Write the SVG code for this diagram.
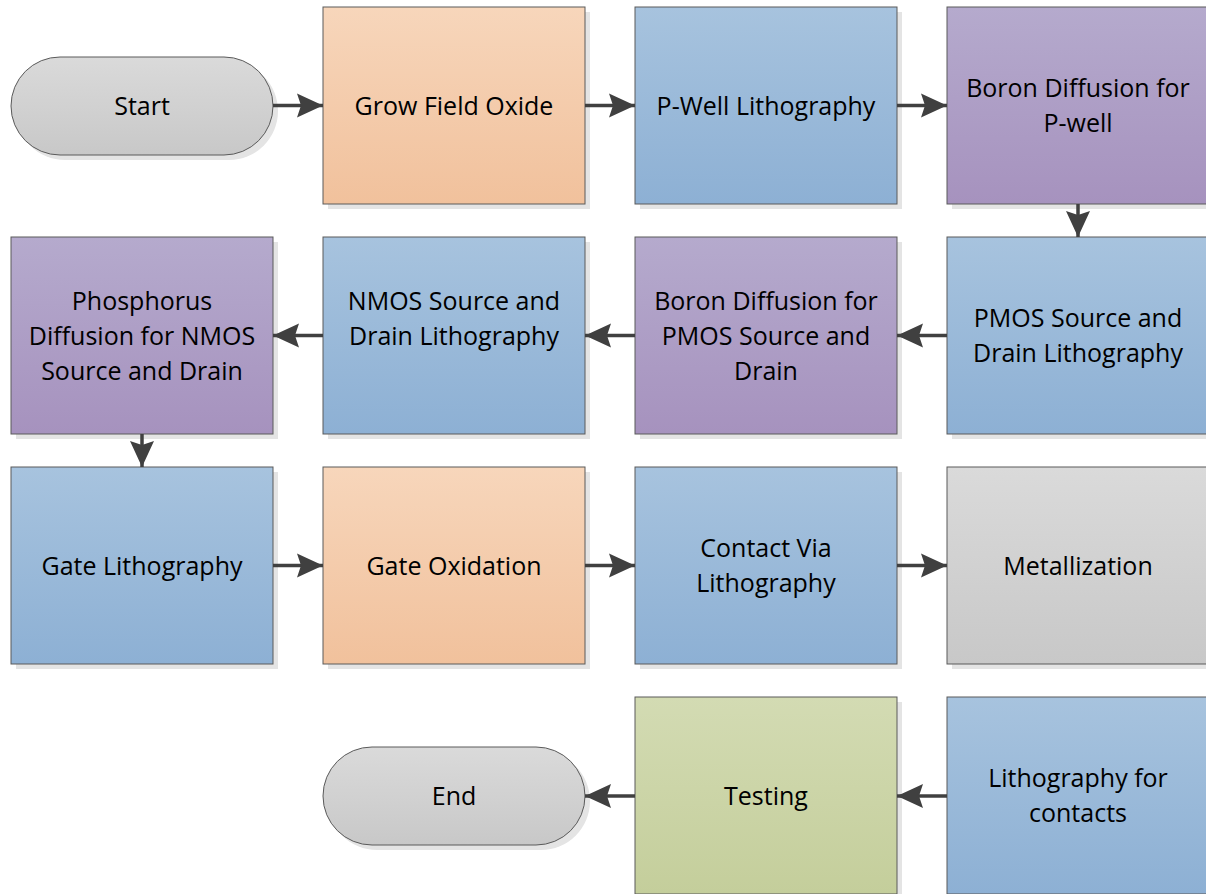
<svg xmlns="http://www.w3.org/2000/svg" width="1206" height="894" viewBox="0 0 1206 894">
<defs>
<linearGradient id="gOrange" x1="0" y1="0" x2="0" y2="1"><stop offset="0" stop-color="#F7D6BB"/><stop offset="1" stop-color="#F1C19C"/></linearGradient>
<linearGradient id="gBlue" x1="0" y1="0" x2="0" y2="1"><stop offset="0" stop-color="#A7C3DE"/><stop offset="1" stop-color="#8DB0D4"/></linearGradient>
<linearGradient id="gPurple" x1="0" y1="0" x2="0" y2="1"><stop offset="0" stop-color="#B5AACD"/><stop offset="1" stop-color="#A692BE"/></linearGradient>
<linearGradient id="gGray" x1="0" y1="0" x2="0" y2="1"><stop offset="0" stop-color="#DADADA"/><stop offset="1" stop-color="#C8C8C8"/></linearGradient>
<linearGradient id="gGreen" x1="0" y1="0" x2="0" y2="1"><stop offset="0" stop-color="#D3DBB3"/><stop offset="1" stop-color="#C4CE9B"/></linearGradient>
<marker id="arr" markerUnits="userSpaceOnUse" markerWidth="30" markerHeight="30" viewBox="-28 -14 30 28" refX="0" refY="0" orient="auto">
<path d="M0,0 L-26,-12 L-22,0 L-26,12 Z" fill="#404040"/>
</marker>
</defs>
<style>
.box{stroke:#5A5A5A;stroke-width:1}
.sh{fill:#E4E4E4}
.t{font-family:"Open Sans","Liberation Sans",sans-serif;font-size:25px;fill:#000;text-anchor:middle}
.c{stroke:#404040;stroke-width:3.5;fill:none;marker-end:url(#arr)}
</style>
<rect width="1206" height="894" fill="#fff"/>

<g id="start">
<rect class="sh" x="16" y="62" width="262" height="98" rx="49"/>
<rect class="box" x="11" y="57" width="262" height="98" rx="49" fill="url(#gGray)"/>
<text class="t" x="142" y="115">Start</text>
</g>
<g id="grow-field-oxide">
<rect class="sh" x="328" y="12" width="262" height="197"/>
<rect class="box" x="323" y="7" width="262" height="197" fill="url(#gOrange)"/>
<text class="t" x="454" y="115">Grow Field Oxide</text>
</g>
<g id="pwell-litho">
<rect class="sh" x="640" y="12" width="262" height="197"/>
<rect class="box" x="635" y="7" width="262" height="197" fill="url(#gBlue)"/>
<text class="t" x="766" y="115">P-Well Lithography</text>
</g>
<g id="boron-pwell">
<rect class="sh" x="952" y="12" width="262" height="197"/>
<rect class="box" x="947" y="7" width="262" height="197" fill="url(#gPurple)"/>
<text class="t" x="1078" y="97">Boron Diffusion for</text>
<text class="t" x="1078" y="132">P-well</text>
</g>

<g id="phosphorus">
<rect class="sh" x="16" y="242" width="262" height="197"/>
<rect class="box" x="11" y="237" width="262" height="197" fill="url(#gPurple)"/>
<text class="t" x="142" y="310">Phosphorus</text>
<text class="t" x="142" y="345">Diffusion for NMOS</text>
<text class="t" x="142" y="380">Source and Drain</text>
</g>
<g id="nmos-litho">
<rect class="sh" x="328" y="242" width="262" height="197"/>
<rect class="box" x="323" y="237" width="262" height="197" fill="url(#gBlue)"/>
<text class="t" x="454" y="310">NMOS Source and</text>
<text class="t" x="454" y="345">Drain Lithography</text>
</g>
<g id="boron-pmos">
<rect class="sh" x="640" y="242" width="262" height="197"/>
<rect class="box" x="635" y="237" width="262" height="197" fill="url(#gPurple)"/>
<text class="t" x="766" y="310">Boron Diffusion for</text>
<text class="t" x="766" y="345">PMOS Source and</text>
<text class="t" x="766" y="380">Drain</text>
</g>
<g id="pmos-litho">
<rect class="sh" x="952" y="242" width="262" height="197"/>
<rect class="box" x="947" y="237" width="262" height="197" fill="url(#gBlue)"/>
<text class="t" x="1078" y="327">PMOS Source and</text>
<text class="t" x="1078" y="362">Drain Lithography</text>
</g>

<g id="gate-litho">
<rect class="sh" x="16" y="472" width="262" height="197"/>
<rect class="box" x="11" y="467" width="262" height="197" fill="url(#gBlue)"/>
<text class="t" x="142" y="575">Gate Lithography</text>
</g>
<g id="gate-oxidation">
<rect class="sh" x="328" y="472" width="262" height="197"/>
<rect class="box" x="323" y="467" width="262" height="197" fill="url(#gOrange)"/>
<text class="t" x="454" y="575">Gate Oxidation</text>
</g>
<g id="contact-via">
<rect class="sh" x="640" y="472" width="262" height="197"/>
<rect class="box" x="635" y="467" width="262" height="197" fill="url(#gBlue)"/>
<text class="t" x="766" y="557">Contact Via</text>
<text class="t" x="766" y="592">Lithography</text>
</g>
<g id="metallization">
<rect class="sh" x="952" y="472" width="262" height="197"/>
<rect class="box" x="947" y="467" width="262" height="197" fill="url(#gGray)"/>
<text class="t" x="1078" y="575">Metallization</text>
</g>

<g id="end">
<rect class="sh" x="328" y="752" width="262" height="98" rx="49"/>
<rect class="box" x="323" y="747" width="262" height="98" rx="49" fill="url(#gGray)"/>
<text class="t" x="454" y="805">End</text>
</g>
<g id="testing">
<rect class="sh" x="640" y="702" width="262" height="197"/>
<rect class="box" x="635" y="697" width="262" height="197" fill="url(#gGreen)"/>
<text class="t" x="766" y="805">Testing</text>
</g>
<g id="litho-contacts">
<rect class="sh" x="952" y="702" width="262" height="197"/>
<rect class="box" x="947" y="697" width="262" height="197" fill="url(#gBlue)"/>
<text class="t" x="1078" y="787">Lithography for</text>
<text class="t" x="1078" y="822">contacts</text>
</g>

<g id="connectors">
<path class="c" d="M273,105.5 H323"/>
<path class="c" d="M585,105.5 H635"/>
<path class="c" d="M897,105.5 H947"/>
<path class="c" d="M1078,204 V237"/>
<path class="c" d="M947,335.5 H897"/>
<path class="c" d="M635,335.5 H585"/>
<path class="c" d="M323,335.5 H273"/>
<path class="c" d="M142,434 V467"/>
<path class="c" d="M273,565.5 H323"/>
<path class="c" d="M585,565.5 H635"/>
<path class="c" d="M897,565.5 H947"/>
<path class="c" d="M947,796 H897"/>
<path class="c" d="M635,796 H585"/>
</g>
</svg>
